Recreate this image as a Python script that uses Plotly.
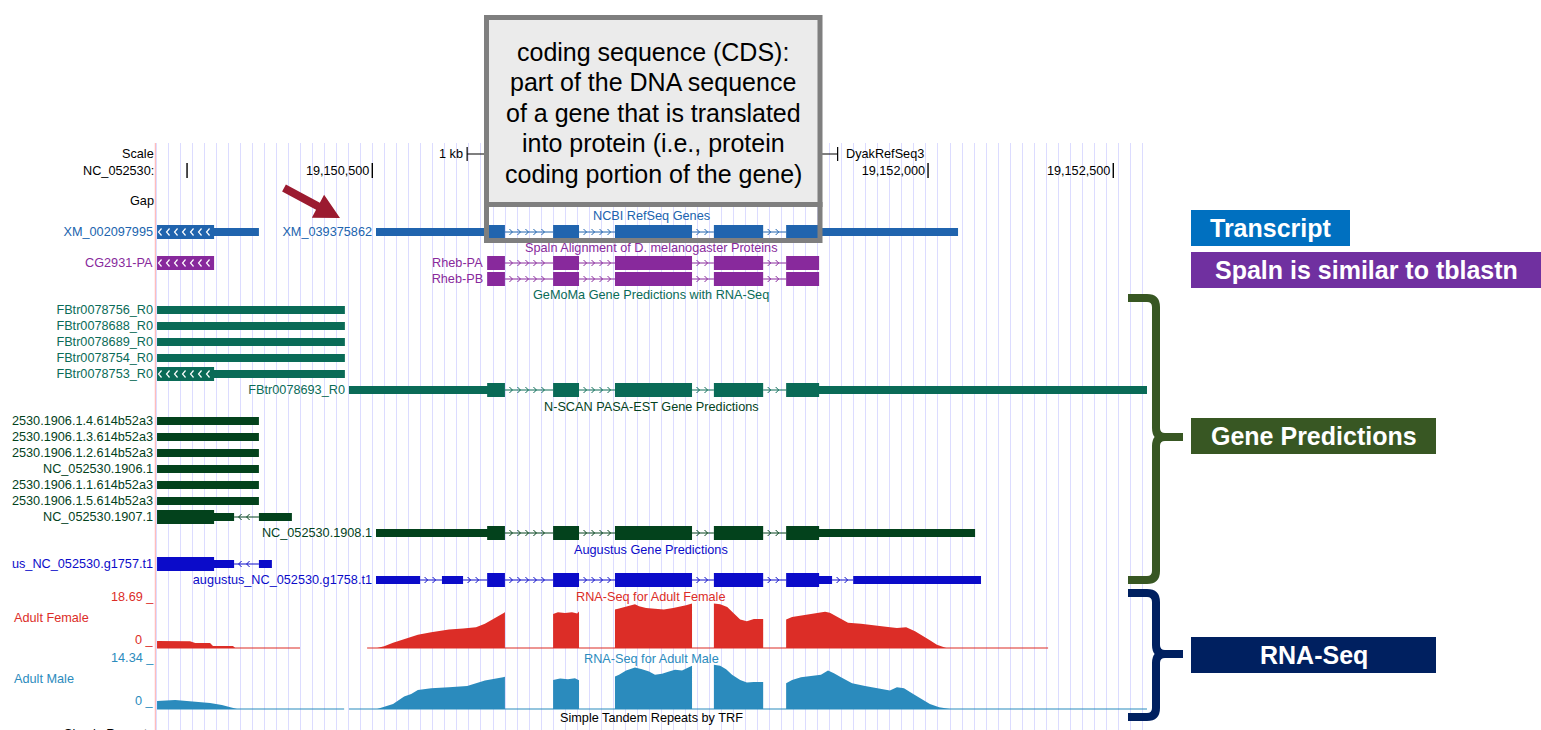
import math
import plotly.graph_objects as go

W, H = 1541, 730
FONT = "Liberation Sans, Arial, sans-serif"

# ---------------- data ----------------
view_range = [19149913.5, 19152591]
position_ticks = [19150000, 19150500, 19151000, 19151500, 19152000, 19152500]
# labels that are visible in the browser image (19,150,000 is not drawn; 19,151,000/500 are hidden by the callout)
position_tick_labels = ["", "19,150,500", "", "", "19,152,000", "19,152,500"]
scale_bar_start = 19150756
scale_bar_bp = 1000

rheb_starts = [19150810, 19150988, 19151155, 19151422, 19151617]
rheb_ends = [19150858, 19151058, 19151363, 19151555, 19151706]

# (name, strand, exon starts, exon ends, thickStart, thickEnd)
refseq_genes = [
    ("XM_002097995", "-", [19149919], [19150194], 19149919, 19150073),
    ("XM_039375862", "+", [19150510, 19150988, 19151155, 19151422, 19151617],
     [19150858, 19151058, 19151363, 19151555, 19152081], 19150810, 19151706),
]
spaln_alignments = [
    ("CG2931-PA", "-", [19149919], [19150073], 19149919, 19150073),
    ("Rheb-PA", "+", rheb_starts, rheb_ends, 19150810, 19151706),
    ("Rheb-PB", "+", rheb_starts, rheb_ends, 19150810, 19151706),
]
gemoma_predictions = [
    ("FBtr0078756_R0", "-", [19149919], [19150426], None, None),
    ("FBtr0078688_R0", "-", [19149919], [19150426], None, None),
    ("FBtr0078689_R0", "-", [19149919], [19150426], None, None),
    ("FBtr0078754_R0", "-", [19149919], [19150426], None, None),
    ("FBtr0078753_R0", "-", [19149919], [19150426], 19149919, 19150073),
    ("FBtr0078693_R0", "+", [19150437, 19150988, 19151155, 19151422, 19151617],
     [19150858, 19151058, 19151363, 19151555, 19152591], 19150810, 19151706),
]
nscan_predictions = [
    ("NC_052530.1906.1.4.614b52a3", "-", [19149919], [19150194], None, None),
    ("NC_052530.1906.1.3.614b52a3", "-", [19149919], [19150194], None, None),
    ("NC_052530.1906.1.2.614b52a3", "-", [19149919], [19150194], None, None),
    ("NC_052530.1906.1", "-", [19149919], [19150194], None, None),
    ("NC_052530.1906.1.1.614b52a3", "-", [19149919], [19150194], None, None),
    ("NC_052530.1906.1.5.614b52a3", "-", [19149919], [19150194], None, None),
    ("NC_052530.1907.1", "-", [19149919, 19150194], [19150127, 19150283], 19149919, 19150073),
    ("NC_052530.1908.1", "+", [19150510, 19150988, 19151155, 19151422, 19151617],
     [19150858, 19151058, 19151363, 19151555, 19152127], 19150810, 19151706),
]
augustus_predictions = [
    ("augustus_NC_052530.g1757.t1", "-", [19149919, 19150194], [19150127, 19150229], 19149919, 19150073),
    ("augustus_NC_052530.g1758.t1", "+",
     [19150510, 19150688, 19150810, 19150988, 19151155, 19151422, 19151617, 19151798],
     [19150629, 19150745, 19150858, 19151058, 19151363, 19151555, 19151741, 19152143],
     19150810, 19151706),
]

female_pos = [19149919, 19149919, 19150008, 19150022, 19150062, 19150070, 19150124, 19150130,
              19150513, 19150532, 19150556, 19150586, 19150605, 19150623, 19150659, 19150696,
              19150707, 19150745, 19150780, 19150804, 19150823, 19150839, 19150856, 19150858, 19150858,
              19150988, 19150988, 19151001, 19151020, 19151039, 19151053, 19151058, 19151058,
              19151155, 19151155, 19151166, 19151190, 19151209, 19151220, 19151239, 19151263,
              19151287, 19151312, 19151331, 19151347, 19151363, 19151363,
              19151422, 19151422, 19151439, 19151458, 19151474, 19151493, 19151511, 19151530,
              19151555, 19151555,
              19151617, 19151617, 19151633, 19151657, 19151687, 19151722, 19151735, 19151760,
              19151784, 19151819, 19151857, 19151892, 19151916, 19151941, 19151965, 19151989,
              19152005, 19152024, 19152040, 19152049]
female_val = [0, 2.7, 2.6, 1.9, 1.9, 0.8, 0.8, 0,
              0, 0.7, 2.0, 3.5, 4.6, 5.2, 6.1, 6.9,
              7.2, 7.6, 8.1, 9.4, 10.9, 12.1, 13.7, 14.0, 0,
              0, 13.2, 13.9, 13.6, 13.9, 13.4, 14.2, 0,
              0, 15.0, 15.4, 16.3, 17.0, 16.3, 15.6, 15.3,
              15.0, 15.6, 16.0, 16.6, 17.3, 0,
              0, 17.3, 17.0, 16.0, 13.7, 11.1, 10.4, 11.3,
              11.3, 0,
              0, 11.1, 12.1, 12.6, 13.3, 14.1, 13.7, 11.7,
              9.8, 9.4, 8.9, 8.2, 7.8, 8.1, 6.5, 4.6,
              3.0, 1.3, 0.3, 0]
female_baseline_pos = [19149919, 19150305, None, 19150486, 19152324]

male_pos = [19149919, 19149919, 19149968, 19150008, 19150035, 19150062, 19150094, 19150116, 19150135,
            19150513, 19150532, 19150556, 19150586, 19150605, 19150623, 19150659, 19150707,
            19150756, 19150804, 19150829, 19150853, 19150858, 19150858,
            19150988, 19150988, 19151007, 19151028, 19151047, 19151058, 19151058,
            19151155, 19151155, 19151166, 19151185, 19151209, 19151228, 19151247, 19151263,
            19151282, 19151301, 19151317, 19151336, 19151355, 19151363, 19151363,
            19151422, 19151422, 19151439, 19151455, 19151471, 19151493, 19151511, 19151530,
            19151555, 19151555,
            19151617, 19151617, 19151633, 19151657, 19151687, 19151711, 19151730, 19151746,
            19151765, 19151795, 19151830, 19151868, 19151897, 19151916, 19151935, 19151960,
            19151984, 19152005, 19152030, 19152059]
male_val = [0, 2.4, 2.7, 2.4, 2.1, 1.8, 1.2, 0.6, 0,
            0, 0.7, 1.5, 3.7, 4.5, 5.7, 6.2, 6.5,
            6.9, 8.5, 8.9, 9.5, 9.6, 0,
            0, 8.7, 9.1, 8.9, 9.2, 8.6, 0,
            0, 9.7, 10.2, 11.5, 12.4, 11.9, 11.2, 10.2,
            10.5, 11.2, 11.7, 11.5, 12.5, 12.9, 0,
            0, 13.2, 12.9, 11.9, 10.2, 8.7, 7.9, 8.1,
            8.1, 0,
            0, 7.7, 8.7, 9.5, 9.9, 10.2, 11.5, 10.7,
            9.5, 7.7, 6.9, 6.2, 5.5, 6.5, 6.2, 4.5,
            2.9, 1.5, 0.5, 0]
male_baseline_pos = [19149919, 19150424, None, 19150437, 19152591]
female_max, male_max = 18.69, 14.34

# ---------------- layout helpers ----------------
PLOT_X0, PLOT_X1 = 155, 1147
LABEL_CLIP_X = 12          # left edge of the browser image's label area
BP = (view_range[1] - view_range[0]) / (PLOT_X1 - PLOT_X0)   # bp per pixel


def fx(p):
    return p / W


def fy(p):
    return 1 - p / H


def gx(g):
    return PLOT_X0 + (g - view_range[0]) / BP


fig = go.Figure()
annotations = []
shapes = []


def txt(x, y, text, color="black", size=12.7, xanchor="center", bold=False,
        xref="paper", yref="paper", xshift=0):
    if bold:
        text = "<b>" + text + "</b>"
    annotations.append(dict(x=x, y=y, xref=xref, yref=yref, text=text, showarrow=False,
                            xanchor=xanchor, yanchor="middle", xshift=xshift,
                            borderpad=0, borderwidth=0,
                            font=dict(family=FONT, size=size, color=color)))


# track styles / rows (pixel rows)
tracks = [
    (refseq_genes, "#2064ae", [232, 232], "NCBI RefSeq Genes", 216, True),
    (spaln_alignments, "#88299c", [263, 263, 279], "Spaln Alignment of D. melanogaster Proteins", 248, True),
    (gemoma_predictions, "#0a6b57", [310, 326, 342, 358, 374, 390], "GeMoMa Gene Predictions with RNA-Seq", 295, True),
    (nscan_predictions, "#03421c", [421, 437, 453, 469, 485, 501, 517, 533], "N-SCAN PASA-EST Gene Predictions", 407, False),
    (augustus_predictions, "#0b0bc9", [564, 580], "Augustus Gene Predictions", 550, False),
]
H_THICK, H_THIN = 14, 8
LABEL_GAP = 4


def draw_feature(f, y, color, exon_arrows):
    name, strand, starts, ends, ts, te = f
    bx, by = [], []
    wx, wy = [], []
    for s, e in zip(starts, ends):
        parts = []
        if ts is None or min(e, te) <= max(s, ts):
            parts.append((s, e, H_THIN, False))
        else:
            a, b = max(s, ts), min(e, te)
            if s < a:
                parts.append((s, a, H_THIN, False))
            parts.append((a, b, H_THICK, True))
            if b < e:
                parts.append((b, e, H_THIN, False))
        for a, b, h, thick in parts:
            bx += [a, b, b, a, a, None]
            by += [y - h / 2, y - h / 2, y + h / 2, y + h / 2, y - h / 2, None]
            if thick and exon_arrows and strand == "-" and gx(starts[0]) < PLOT_X0 + 3:
                t = a + 1.5 * BP
                while t + 3 * BP < b - 2 * BP:
                    wx += [t + 3 * BP, t, t + 3 * BP, None]
                    wy += [y - 3.5, y, y + 3.5, None]
                    t += 8 * BP
    # introns with strand chevrons
    lx, ly = [], []
    for i in range(len(starts) - 1):
        a, b = ends[i], starts[i + 1]
        if b <= a:
            continue
        lx += [a, b, None]
        ly += [y, y, None]
        c = a + 6 * BP
        while c <= b - 3 * BP:
            if strand == "+":
                lx += [c - 1.5 * BP, c + 1.5 * BP, c - 1.5 * BP, None]
            else:
                lx += [c + 1.5 * BP, c - 1.5 * BP, c + 1.5 * BP, None]
            ly += [y - 3, y, y + 3, None]
            c += 8 * BP
    if lx:
        fig.add_trace(go.Scatter(x=lx, y=ly, mode="lines", line=dict(color=color, width=1),
                                 hoverinfo="skip", showlegend=False))
    fig.add_trace(go.Scatter(x=bx, y=by, mode="lines", fill="toself", fillcolor=color,
                             line=dict(width=0, color=color), hoverinfo="skip", showlegend=False))
    if wx:
        fig.add_trace(go.Scatter(x=wx, y=wy, mode="lines", line=dict(color="white", width=1.2),
                                 hoverinfo="skip", showlegend=False))
    # label, clipped at the left edge of the label area like the browser image
    room = gx(starts[0]) - LABEL_GAP - LABEL_CLIP_X
    annotations.append(dict(x=starts[0], y=y, xref="x", yref="y", text=name, showarrow=False,
                            xanchor="right", yanchor="middle", xshift=-LABEL_GAP, align="right",
                            width=room, borderpad=0, borderwidth=0,
                            font=dict(family=FONT, size=12.7, color=color)))


for feats, color, rows, title, ty, arrows in tracks:
    txt(fx(651), fy(ty), title, color=color)
    for f, r in zip(feats, rows):
        draw_feature(f, r, color, arrows)

# scale bar and position ticks
sb = [scale_bar_start, scale_bar_start, None, scale_bar_start, scale_bar_start + scale_bar_bp, None,
      scale_bar_start + scale_bar_bp, scale_bar_start + scale_bar_bp]
fig.add_trace(go.Scatter(x=sb, y=[147, 161, None, 154, 154, None, 147, 161], mode="lines",
                         line=dict(color="black", width=1.2), hoverinfo="skip", showlegend=False))
tx, ty_ = [], []
for t in position_ticks:
    tx += [t, t, None]
    ty_ += [163, 178, None]
fig.add_trace(go.Scatter(x=tx, y=ty_, mode="lines", line=dict(color="black", width=1.4),
                         hoverinfo="skip", showlegend=False))
fig.add_trace(go.Scatter(x=position_ticks, y=[172.3] * len(position_ticks), mode="markers+text",
                         marker=dict(size=3, color="rgba(0,0,0,0)"), text=position_tick_labels,
                         textposition="middle left", textfont=dict(family=FONT, size=12.7, color="black"),
                         hoverinfo="skip", showlegend=False))

# coverage tracks
fcol, mcol = "#dc2d27", "#2b8bbd"
fig.add_trace(go.Scatter(x=female_pos, y=female_val, mode="lines", fill="tozeroy", fillcolor=fcol,
                         line=dict(width=0, color=fcol), xaxis="x", yaxis="y2",
                         hoverinfo="skip", showlegend=False))
fig.add_trace(go.Scatter(x=female_baseline_pos, y=[0, 0, None, 0, 0], mode="lines",
                         line=dict(width=1.2, color=fcol), xaxis="x", yaxis="y2",
                         hoverinfo="skip", showlegend=False))
fig.add_trace(go.Scatter(x=male_pos, y=male_val, mode="lines", fill="tozeroy", fillcolor=mcol,
                         line=dict(width=0, color=mcol), xaxis="x", yaxis="y3",
                         hoverinfo="skip", showlegend=False))
fig.add_trace(go.Scatter(x=male_baseline_pos, y=[0, 0, None, 0, 0], mode="lines",
                         line=dict(width=1.2, color=mcol), xaxis="x", yaxis="y3",
                         hoverinfo="skip", showlegend=False))

# left-side labels
txt(fx(153.5), fy(154), "Scale", xanchor="right")
txt(fx(153.5), fy(171), "NC_052530:", xanchor="right")
txt(fx(153.5), fy(201), "Gap", xanchor="right")
txt(fx(463), fy(154), "1 kb", xanchor="right")
txt(fx(846), fy(154), "DyakRefSeq3", xanchor="left")
txt(fx(154), fy(597), "18.69 _", color=fcol, xanchor="right")
txt(fx(13.5), fy(618), "Adult Female", color=fcol, xanchor="left")
txt(fx(154), fy(640), "0 _", color=fcol, xanchor="right")
txt(fx(651), fy(597), "RNA-Seq for Adult Female", color=fcol)
txt(fx(154), fy(658), "14.34 _", color=mcol, xanchor="right")
txt(fx(13.5), fy(679), "Adult Male", color=mcol, xanchor="left")
txt(fx(154), fy(701), "0 _", color=mcol, xanchor="right")
txt(fx(651), fy(659), "RNA-Seq for Adult Male", color=mcol)
txt(fx(651), fy(718), "Simple Tandem Repeats by TRF", color="black")
txt(fx(153.5), fy(734), "Simple Repeats", xanchor="right")

# pink left boundary line
shapes.append(dict(type="line", xref="paper", yref="paper", x0=fx(155.5), x1=fx(155.5),
                   y0=fy(143), y1=0, line=dict(color="#ffbcbc", width=1.5), layer="below"))

# CDS callout box
shapes.append(dict(type="rect", xref="paper", yref="paper", x0=fx(486.5), x1=fx(820),
                   y0=fy(17.5), y1=fy(204.5), fillcolor="#ebebeb",
                   line=dict(color="#7f7f7f", width=5), layer="above"))
shapes.append(dict(type="rect", xref="paper", yref="paper", x0=fx(486.5), x1=fx(820),
                   y0=fy(204.5), y1=fy(240.5), fillcolor="rgba(0,0,0,0)",
                   line=dict(color="#7f7f7f", width=5), layer="above"))
cds_lines = ["coding sequence (CDS):", "part of the DNA sequence", "of a gene that is translated",
             "into protein (i.e., protein", "coding portion of the gene)"]
for i, line in enumerate(cds_lines):
    txt(fx(653), fy(52 + 30.4 * i), line, size=25)


def path_px(cmds):
    out = ""
    for c, pts in cmds:
        out += c + " ".join("%.6f,%.6f" % (fx(x), fy(y)) for x, y in pts) + " "
    return out


# red arrow
tail, tip = (284.0, 188.0), (340.0, 218.0)
dx, dy = tip[0] - tail[0], tip[1] - tail[1]
L = math.hypot(dx, dy)
ux, uy = dx / L, dy / L
nx, ny = -uy, ux
hl, hw, sw = 25, 13, 4
bxp, byp = tip[0] - hl * ux, tip[1] - hl * uy
poly = [(tail[0] + nx * sw, tail[1] + ny * sw), (bxp + nx * sw, byp + ny * sw),
        (bxp + nx * hw, byp + ny * hw), tip, (bxp - nx * hw, byp - ny * hw),
        (bxp - nx * sw, byp - ny * sw), (tail[0] - nx * sw, tail[1] - ny * sw)]
shapes.append(dict(type="path", xref="paper", yref="paper",
                   path=path_px([("M", [poly[0]])] + [("L", [p]) for p in poly[1:]]) + "Z",
                   fillcolor="#9b1b30", line=dict(width=0), layer="above"))


def brace(xl, xv, xt, yt, yb, ym, color, r=9):
    p = path_px([("M", [(xl, yt)]), ("L", [(xv - r, yt)]), ("Q", [(xv, yt), (xv, yt + r)]),
                 ("L", [(xv, ym - r)]), ("Q", [(xv, ym), (xv + r, ym)]), ("L", [(xt, ym)]),
                 ("M", [(xt, ym)]), ("L", [(xv + r, ym)]), ("Q", [(xv, ym), (xv, ym + r)]),
                 ("L", [(xv, yb - r)]), ("Q", [(xv, yb), (xv - r, yb)]), ("L", [(xl, yb)])])
    shapes.append(dict(type="path", xref="paper", yref="paper", path=p,
                       line=dict(color=color, width=8), layer="above"))


GREEN, NAVY = "#385723", "#002060"
brace(1128, 1156, 1183, 298, 580, 437, GREEN)
brace(1128, 1156, 1183, 593, 717, 654, NAVY)

# right-hand labelled boxes
for (x0, x1, y0, y1, col, label) in [
    (1191, 1350, 210, 246, "#0070c0", "Transcript"),
    (1191, 1541, 252, 288, "#7030a0", "Spaln is similar to tblastn"),
    (1191, 1436, 418, 454, GREEN, "Gene Predictions"),
    (1191, 1436, 637, 673, NAVY, "RNA-Seq"),
]:
    shapes.append(dict(type="rect", xref="paper", yref="paper", x0=fx(x0), x1=fx(x1),
                       y0=fy(y0), y1=fy(y1), fillcolor=col, line=dict(width=0), layer="above"))
    txt(fx((x0 + x1) / 2), fy((y0 + y1) / 2), label, color="white", size=25, bold=True)

hidden = dict(showgrid=False, showticklabels=False, zeroline=False, showline=False, ticks="",
              fixedrange=True)
fig.update_layout(
    width=W, height=H, margin=dict(l=0, r=0, t=0, b=0),
    paper_bgcolor="white", plot_bgcolor="rgba(0,0,0,0)", showlegend=False,
    xaxis=dict(domain=[fx(PLOT_X0), fx(PLOT_X1)], range=view_range, showgrid=True, gridcolor="#dcdcff",
               gridwidth=1, tick0=19149949.4, dtick=32.46, showticklabels=False, ticks="",
               zeroline=False, showline=False, fixedrange=True),
    yaxis=dict(domain=[0, fy(143)], range=[730, 143], **hidden),
    yaxis2=dict(domain=[fy(650), fy(600)], range=[-2 * female_max / 48, female_max], anchor="x", **hidden),
    yaxis3=dict(domain=[fy(711), fy(661)], range=[-2 * male_max / 48, male_max], anchor="x", **hidden),
    annotations=annotations, shapes=shapes,
)
fig.write_html("out.html", config={"displayModeBar": False},
               post_script="document.body.style.margin='0';document.body.style.overflow='hidden';")
